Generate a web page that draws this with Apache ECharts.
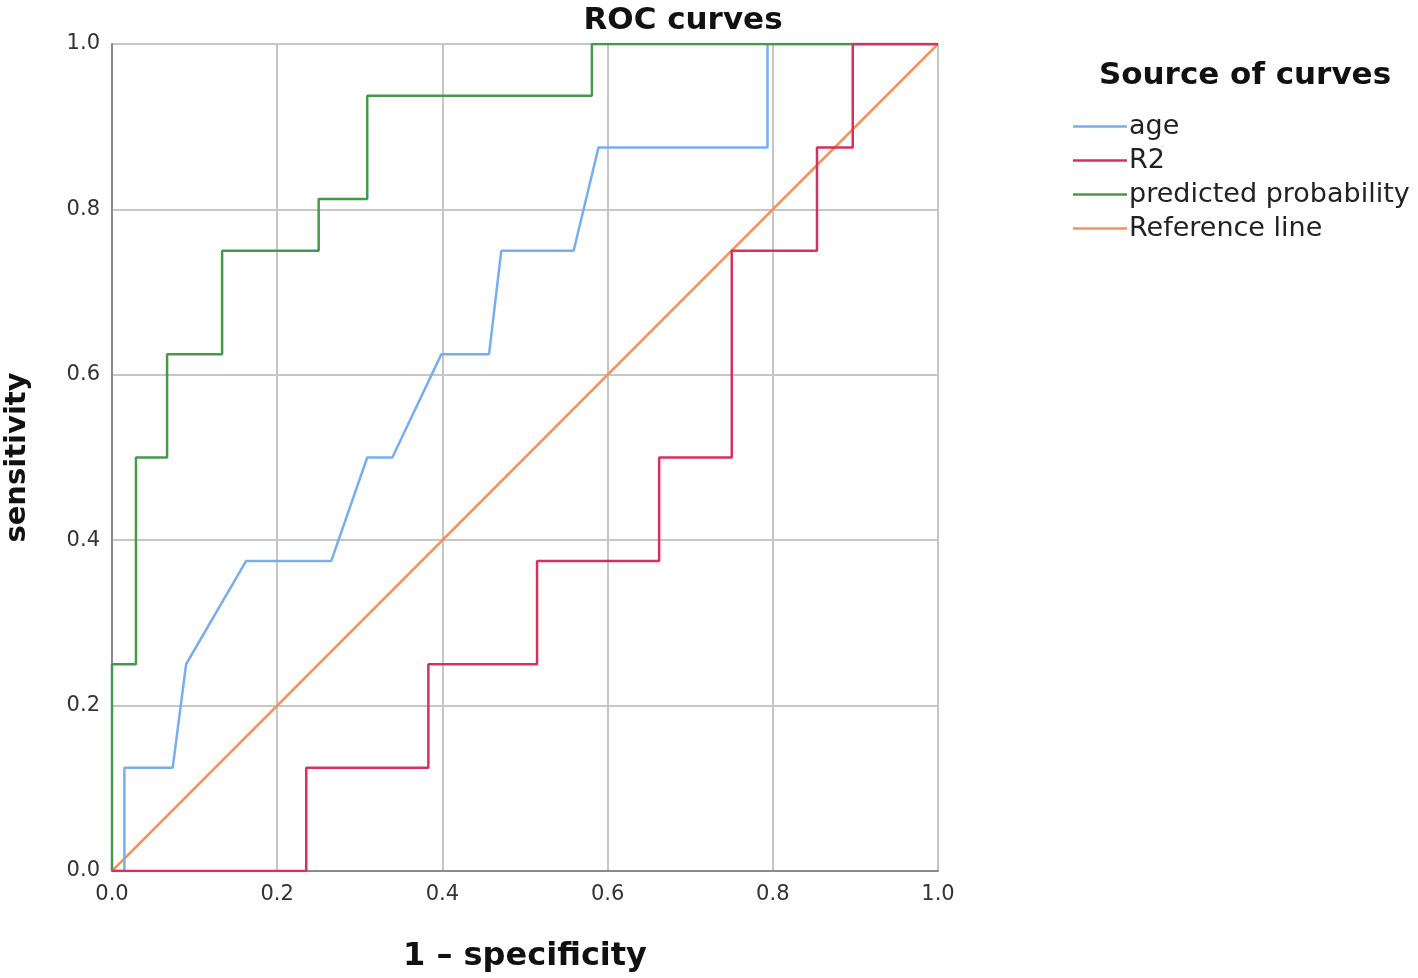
<!DOCTYPE html>
<html>
<head>
<meta charset="utf-8">
<script src="https://cdn.jsdelivr.net/npm/echarts@6/dist/echarts.min.js"></script>
<style>html,body{margin:0;padding:0;background:#fff;}#c{width:1418px;height:978px;}</style>
</head>
<body>
<div id="c"></div>
<script>
const xTicks = [0.0, 0.2, 0.4, 0.6, 0.8, 1.0];
const seriesNames = ['age', 'R2', 'predicted probability', 'Reference line'];
const ageX = [0, 0.015, 0.015, 0.0735, 0.0897, 0.1624, 0.2655, 0.309, 0.3394, 0.3988, 0.4565, 0.4713, 0.5589, 0.589, 0.7936, 0.7936, 1];
const ageY = [0, 0, 0.125, 0.125, 0.25, 0.375, 0.375, 0.5, 0.5, 0.625, 0.625, 0.75, 0.75, 0.875, 0.875, 1, 1];
const r2X = [0, 0.2352, 0.2352, 0.383, 0.383, 0.5146, 0.5146, 0.6624, 0.6624, 0.7503, 0.7503, 0.8535, 0.8535, 0.8968, 0.8968, 1];
const r2Y = [0, 0, 0.125, 0.125, 0.25, 0.25, 0.375, 0.375, 0.5, 0.5, 0.75, 0.75, 0.875, 0.875, 1, 1];
const predX = [0, 0, 0.029, 0.029, 0.0667, 0.0667, 0.1333, 0.1333, 0.2502, 0.2502, 0.309, 0.309, 0.581, 0.581, 1];
const predY = [0, 0.25, 0.25, 0.5, 0.5, 0.625, 0.625, 0.75, 0.75, 0.8125, 0.8125, 0.9375, 0.9375, 1, 1];
const refX = [0, 1];
const refY = [0, 1];
const colors = ['#78aeea', '#d8305c', '#46994a', '#f6925c'];

const zip = (xs, ys) => xs.map((x, i) => [x, ys[i]]);
const chart = echarts.init(document.getElementById('c'));
const font = 'DejaVu Sans';
chart.setOption({
  animation: false,
  backgroundColor: '#fff',
  color: colors,
  title: [
    {text: 'ROC curves', left: 678, top: 0, textAlign: 'center',
     textStyle: {fontFamily: font, fontWeight: 'bold', fontSize: 31, color: '#111'}},
    {text: 'Source of curves', left: 1240, top: 55, textAlign: 'center',
     textStyle: {fontFamily: font, fontWeight: 'bold', fontSize: 31, color: '#111'}}
  ],
  legend: {
    orient: 'vertical', left: 1068, top: 108,
    data: seriesNames,
    icon: 'rect', itemWidth: 54, itemHeight: 2.5, itemGap: 7,
    textStyle: {fontFamily: font, fontSize: 27, color: '#222', padding: [0, 0, 0, -3]}
  },
  grid: {left: 112, right: 480, top: 44, bottom: 107, containLabel: false, outerBoundsMode: 'none'},
  xAxis: {
    type: 'value', min: 0, max: 1, interval: 0.2,
    name: '1 – specificity', nameLocation: 'middle', nameGap: 70,
    nameTextStyle: {fontFamily: font, fontWeight: 'bold', fontSize: 32, color: '#111'},
    axisLine: {show: true, lineStyle: {color: '#8a8a8a', width: 2}},
    axisTick: {show: false},
    splitLine: {show: true, lineStyle: {color: '#c6c6c6', width: 2}},
    axisLabel: {fontFamily: font, fontSize: 21, color: '#333', margin: 13, formatter: v => v.toFixed(1)}
  },
  yAxis: {
    type: 'value', min: 0, max: 1, interval: 0.2,
    name: 'sensitivity', nameLocation: 'middle', nameGap: 80, nameRotate: 90,
    nameTextStyle: {fontFamily: font, fontWeight: 'bold', fontSize: 29, color: '#111'},
    axisLine: {show: true, lineStyle: {color: '#8a8a8a', width: 2}},
    axisTick: {show: false},
    splitLine: {show: true, lineStyle: {color: '#c6c6c6', width: 2}},
    axisLabel: {fontFamily: font, fontSize: 21, color: '#333', margin: 12, formatter: v => v.toFixed(1)}
  },
  series: [
    {name: seriesNames[3], type: 'line', data: zip(refX, refY), showSymbol: false, lineStyle: {width: 2.5}, z: 2},
    {name: seriesNames[0], type: 'line', data: zip(ageX, ageY), showSymbol: false, lineStyle: {width: 2.5}, z: 3},
    {name: seriesNames[2], type: 'line', data: zip(predX, predY), showSymbol: false, lineStyle: {width: 2.5}, z: 4},
    {name: seriesNames[1], type: 'line', data: zip(r2X, r2Y), showSymbol: false, lineStyle: {width: 2.5}, z: 5}
  ].map(s => Object.assign(s, {color: colors[seriesNames.indexOf(s.name)], silent: true}))
});
</script>
</body>
</html>
